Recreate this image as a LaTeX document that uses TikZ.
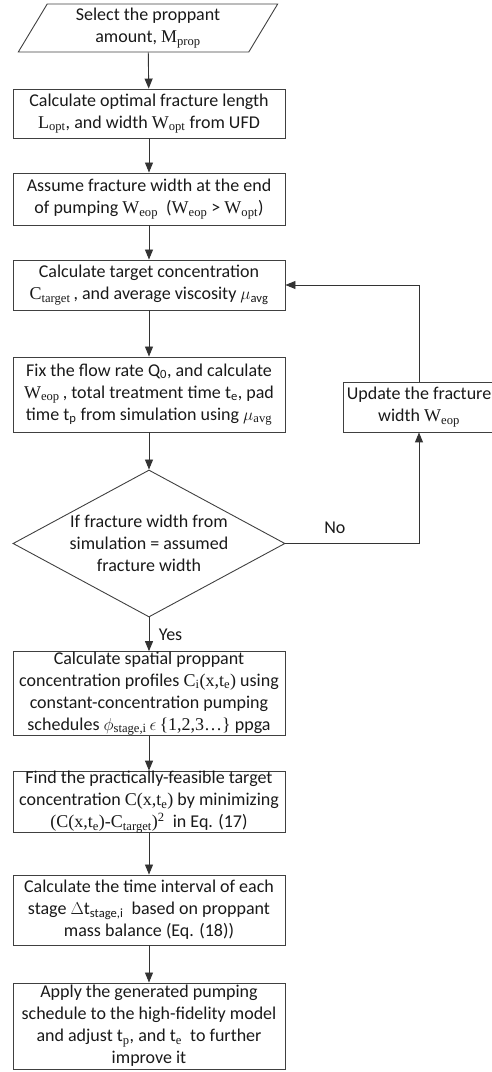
\documentclass[tikz,border=0pt]{standalone}
\usepackage{fontspec}
\setmainfont{Carlito}
\newfontfamily\varfont{Liberation Serif}
\usetikzlibrary{shapes.geometric,arrows.meta}
% variable with subscript, set in serif
\newcommand{\vsub}[2]{{\varfont #1}\textsubscript{\varfont #2}}

\begin{document}
\begin{tikzpicture}[x=1pt,y=1pt,
  >={Triangle[length=10pt,width=8pt]},
  every node/.style={font=\fontsize{18}{22}\selectfont,text=black!90},
  procbox/.style={draw=black!75,line width=0.9pt,rectangle,align=center,
    minimum width=272pt,inner sep=0pt},
  flowline/.style={->,draw=black!80,line width=0.9pt}]
\useasboundingbox (0,0) rectangle (492,1072);
% Input
\node[draw=black!75,line width=0.9pt,trapezium,trapezium left angle=62.5,
  trapezium right angle=117.5,trapezium stretches=true,minimum width=260pt,
  minimum height=48pt,inner sep=0pt,align=center] (select) at (148,1044)
  {Select the proppant\\amount, \vsub{M}{prop}};
% Process steps
\node[procbox,minimum height=49pt] (optimal) at (149,958.5)
  {Calculate optimal fracture length\\\vsub{L}{opt}, and width \vsub{W}{opt} from UFD};
\node[procbox,minimum height=52pt] (assume) at (149,873)
  {Assume fracture width at the end\\of pumping \vsub{W}{eop}\ \ (\vsub{W}{eop} > \vsub{W}{opt})};
\node[procbox,minimum height=50pt] (target) at (149,787)
  {Calculate target concentration\\\vsub{C}{target}\,, and average viscosity $\mu$\textsubscript{avg}};
\node[procbox,minimum height=75pt] (flowrate) at (149,677.5)
  {Fix the flow rate Q\textsubscript{0}, and calculate\\\vsub{W}{eop}\,, total treatment time t\textsubscript{e}, pad\\time t\textsubscript{p} from simulation using $\mu$\textsubscript{\varfont avg}};
% Decision
\node[draw=black!75,line width=0.9pt,diamond,aspect=1.85,minimum width=272pt,
  minimum height=147pt,inner sep=-6pt,align=center] (check) at (149,528.5)
  {If fracture width from\\simulation = assumed\\fracture width};
\node[procbox,minimum width=152pt,minimum height=50pt] (update) at (419,665)
  {Update the fracture\\width \vsub{W}{eop}};
% Schedule design
\node[procbox,minimum height=83pt] (profiles) at (149,378.5)
  {Calculate spatial proppant\\concentration profiles \vsub{C}{i}{\varfont(x,t\textsubscript{e})} using\\constant-concentration pumping\\schedules $\phi$\textsubscript{\varfont stage,i}\,$\epsilon$\,{\varfont\{1,2,3\dots\}} ppga};
\node[procbox,minimum height=58pt] (feasible) at (149,270)
  {Find the practically-feasible target\\concentration {\varfont C(x,t\textsubscript{e})} by minimizing\\{\varfont(C(x,t\textsubscript{e})-C\textsubscript{target})\textsuperscript{2}}\ \ in Eq. (17)};
\node[procbox,minimum height=70pt] (interval) at (149,162)
  {Calculate the time interval of each\\stage $\Delta$t\textsubscript{stage,i}\ \ based on proppant\\mass balance (Eq. (18))};
\node[procbox,minimum height=86pt] (apply) at (149,46)
  {Apply the generated pumping\\schedule to the high-fidelity model\\and adjust t\textsubscript{\varfont p}, and t\textsubscript{\varfont e}\ \ to further\\improve it};
% Connectors
\draw[flowline] (select) -- (optimal);
\draw[flowline] (optimal) -- (assume);
\draw[flowline] (assume) -- (target);
\draw[flowline] (target) -- (flowrate);
\draw[flowline] (flowrate) -- (check);
\draw[flowline] (check) -- node[right,xshift=6pt] {Yes} (profiles);
\draw[flowline] (profiles) -- (feasible);
\draw[flowline] (feasible) -- (interval);
\draw[flowline] (interval) -- (apply);
% Loop back
\draw[flowline] (check.east) -- node[above,yshift=6pt,pos=0.37] {No} (check.east -| update.south) -- (update.south);
\draw[flowline] (update.north) |- (target.east);
\end{tikzpicture}
\end{document}
